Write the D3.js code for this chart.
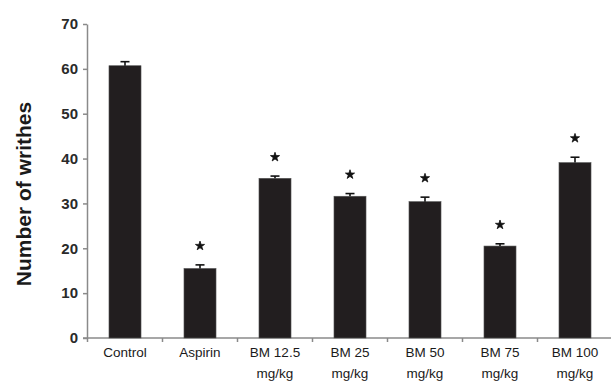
<!DOCTYPE html>
<html>
<head>
<meta charset="utf-8">
<script src="https://cdn.jsdelivr.net/npm/d3@7"></script>
<style>
  body { margin: 0; background: #fff; }
  svg { display: block; font-family: "Liberation Sans", Arial, sans-serif; }
</style>
</head>
<body>
<svg width="611" height="382"></svg>
<script>
var groups = ["Control", "Aspirin", "BM 12.5|mg/kg", "BM 25|mg/kg", "BM 50|mg/kg", "BM 75|mg/kg", "BM 100|mg/kg"];
var means = [60.7, 15.5, 35.6, 31.6, 30.4, 20.5, 39.1];
var errors = [0.9, 0.8, 0.5, 0.6, 1.0, 0.5, 1.2];
var significant = [false, true, true, true, true, true, true];
var yTicks = [0, 10, 20, 30, 40, 50, 60, 70];

var svg = d3.select("svg");

var x = d3.scaleBand()
  .domain(groups)
  .range([87.5, 612.5])
  .paddingInner(0.573)
  .paddingOuter(0.2865);

var y = d3.scaleLinear()
  .domain([0, 70])
  .range([338, 24]);

var axisColor = "#8a8a8a";

// y axis
var yAxis = svg.append("g")
  .attr("transform", "translate(87,0)")
  .call(d3.axisLeft(y).tickValues(yTicks).tickSize(4).tickSizeOuter(0));
yAxis.select(".domain").attr("stroke", axisColor).attr("stroke-width", 1.5);
yAxis.selectAll(".tick line").attr("stroke", axisColor).attr("stroke-width", 1.5);
yAxis.selectAll(".tick text")
  .attr("x", -9)
  .attr("fill", "#2a2a2a")
  .style("font-size", "15px")
  .style("font-weight", "bold")
  .style("font-family", "'Liberation Sans', Arial, sans-serif");

// x axis line with ticks at the band edges
svg.append("line")
  .attr("x1", 83).attr("x2", 611)
  .attr("y1", y(0)).attr("y2", y(0))
  .attr("stroke", axisColor).attr("stroke-width", 1.5);

svg.append("g").selectAll("line.xt")
  .data(groups)
  .enter().append("line")
    .attr("x1", function(d) { return x(d) - x.step() * x.paddingInner() / 2; })
    .attr("x2", function(d) { return x(d) - x.step() * x.paddingInner() / 2; })
    .attr("y1", y(0))
    .attr("y2", y(0) + 4)
    .attr("stroke", axisColor).attr("stroke-width", 1.5);

// bars
svg.append("g").selectAll("rect")
  .data(groups)
  .enter().append("rect")
    .attr("x", function(d) { return x(d); })
    .attr("width", x.bandwidth())
    .attr("y", function(d, i) { return y(means[i]); })
    .attr("height", function(d, i) { return y(0) - y(means[i]); })
    .attr("fill", "#221e1f")
    .attr("stroke", "#555")
    .attr("stroke-width", 0.6);

// error bars (upper only)
var err = svg.append("g").attr("stroke", "#111").attr("stroke-width", 1.6);
groups.forEach(function(d, i) {
  var cx = x(d) + x.bandwidth() / 2;
  err.append("line")
    .attr("x1", cx).attr("x2", cx)
    .attr("y1", y(means[i])).attr("y2", y(means[i] + errors[i]));
  err.append("line")
    .attr("x1", cx - 4.5).attr("x2", cx + 4.5)
    .attr("y1", y(means[i] + errors[i])).attr("y2", y(means[i] + errors[i]));
});

// significance stars
svg.append("g").selectAll("path")
  .data(groups.filter(function(d, i) { return significant[i]; }))
  .enter().append("path")
    .attr("d", d3.symbol().type(d3.symbolStar).size(26))
    .attr("fill", "#111")
    .attr("stroke", "#111")
    .attr("stroke-width", 0.8)
    .attr("stroke-linejoin", "round")
    .attr("transform", function(d) {
      var i = groups.indexOf(d);
      return "translate(" + (x(d) + x.bandwidth() / 2) + "," + (y(means[i] + errors[i]) - 19) + ")";
    });

// category labels
var labels = svg.append("g").selectAll("text")
  .data(groups)
  .enter().append("text")
    .attr("text-anchor", "middle")
    .attr("fill", "#1a1a1a")
    .style("font-size", "13.5px");
labels.each(function(d) {
  var t = d3.select(this);
  var cx = x(d) + x.bandwidth() / 2;
  d.split("|").forEach(function(part, k) {
    t.append("tspan")
      .attr("x", cx)
      .attr("y", 357 + k * 21)
      .text(part);
  });
});

// y axis title
svg.append("text")
  .attr("transform", "translate(31,194) rotate(-90)")
  .attr("text-anchor", "middle")
  .attr("fill", "#1a1a1a")
  .style("font-size", "21px")
  .style("font-weight", "bold")
  .text("Number of writhes");
</script>
</body>
</html>
